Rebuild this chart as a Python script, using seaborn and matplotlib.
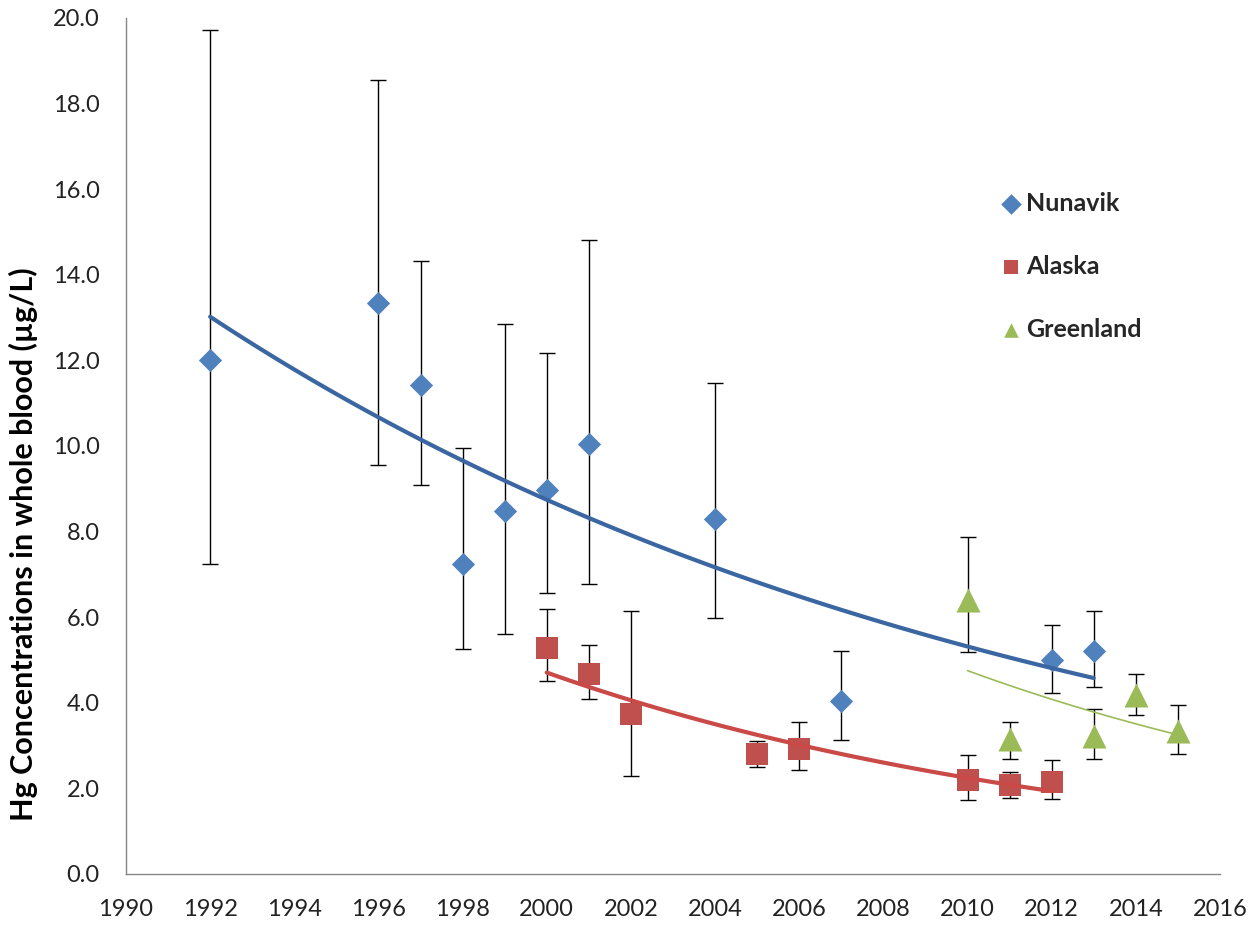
import numpy as np
import pandas as pd
import matplotlib
matplotlib.use("Agg")
import matplotlib.pyplot as plt
from matplotlib.ticker import FormatStrFormatter
import seaborn as sns

# Blood mercury means with upper / lower error limits, by survey year
nunavik_year = [1992, 1996, 1997, 1998, 1999, 2000, 2001, 2004, 2007, 2012, 2013]
nunavik_hg = [12.0, 13.35, 11.42, 7.25, 8.49, 8.97, 10.05, 8.30, 4.05, 5.00, 5.20]
nunavik_hi = [19.72, 18.55, 14.33, 9.95, 12.85, 12.18, 14.81, 11.47, 5.22, 5.81, 6.15]
nunavik_lo = [7.24, 9.56, 9.08, 5.25, 5.61, 6.56, 6.77, 5.99, 3.13, 4.24, 4.38]

alaska_year = [2000, 2001, 2002, 2005, 2006, 2010, 2011, 2012]
alaska_hg = [5.27, 4.67, 3.74, 2.80, 2.93, 2.20, 2.08, 2.15]
alaska_hi = [6.18, 5.34, 6.15, 3.11, 3.54, 2.79, 2.39, 2.66]
alaska_lo = [4.51, 4.10, 2.29, 2.50, 2.42, 1.72, 1.78, 1.75]

greenland_year = [2010, 2011, 2013, 2014, 2015]
greenland_hg = [6.40, 3.15, 3.22, 4.18, 3.33]
greenland_hi = [7.88, 3.56, 3.86, 4.67, 3.96]
greenland_lo = [5.18, 2.69, 2.69, 3.71, 2.80]

x_ticks = list(range(1990, 2017, 2))
y_ticks = [0, 2, 4, 6, 8, 10, 12, 14, 16, 18, 20]

sites = ["Nunavik", "Alaska", "Greenland"]
colors = {"Nunavik": "#4F81BD", "Alaska": "#C0504D", "Greenland": "#9BBB59"}
trend_colors = {"Nunavik": "#3A66A2", "Alaska": "#C94A47", "Greenland": "#9BBB59"}
trend_widths = {"Nunavik": 3.0, "Alaska": 3.0, "Greenland": 1.2}
markers = {"Nunavik": "D", "Alaska": "s", "Greenland": "^"}
sizes = {"Nunavik": 140, "Alaska": 250, "Greenland": 300}

series = {
    "Nunavik": (nunavik_year, nunavik_hg, nunavik_hi, nunavik_lo),
    "Alaska": (alaska_year, alaska_hg, alaska_hi, alaska_lo),
    "Greenland": (greenland_year, greenland_hg, greenland_hi, greenland_lo),
}

frames = []
for site, (yr, hg, hi, lo) in series.items():
    frames.append(pd.DataFrame({"year": yr, "hg": hg, "hi": hi, "lo": lo, "site": site}))
df = pd.concat(frames, ignore_index=True)

sns.set_theme(style="white")
plt.rcParams["font.family"] = ["Lato", "DejaVu Sans"]

fig = plt.figure(figsize=(12.53, 9.26), dpi=100)
ax = fig.add_axes([126 / 1253, 1 - 874 / 926, (1220 - 126) / 1253, (874 - 18) / 926])

# error bars underneath the markers
for site in sites:
    d = df[df.site == site]
    ax.errorbar(d.year, d.hg, yerr=[d.hg - d.lo, d.hi - d.hg], fmt="none",
                ecolor="black", elinewidth=1.0, capsize=5.5, capthick=1.0, zorder=1)

# markers
for site in sites:
    d = df[df.site == site]
    sns.scatterplot(data=d, x="year", y="hg", ax=ax, marker=markers[site],
                    color=colors[site], s=sizes[site], linewidth=0, zorder=3,
                    label=site, legend=False)

# exponential trend lines fitted to each series
for site in sites:
    d = df[df.site == site]
    b, a = np.polyfit(d.year, np.log(d.hg), 1)
    xs = np.linspace(d.year.min(), d.year.max(), 100)
    fit = pd.DataFrame({"year": xs, "hg": np.exp(a + b * xs)})
    sns.lineplot(data=fit, x="year", y="hg", ax=ax, color=trend_colors[site],
                 linewidth=trend_widths[site], zorder=4, legend=False)

ax.set_xlim(1990, 2016)
ax.set_ylim(0, 20)
ax.set_xticks(x_ticks)
ax.set_yticks(y_ticks)
ax.yaxis.set_major_formatter(FormatStrFormatter("%.1f"))
ax.set_xlabel("")
ax.set_ylabel("Hg Concentrations in whole blood (µg/L)", fontsize=22,
              fontweight="bold", color="black")
ax.yaxis.set_label_coords(-0.080, 0.385)

for side in ["top", "right"]:
    ax.spines[side].set_visible(False)
for side in ["left", "bottom"]:
    ax.spines[side].set_color("#868686")
    ax.spines[side].set_linewidth(1.0)
ax.tick_params(axis="both", which="major", direction="out", length=5, width=1.0,
               color="#868686", labelsize=17, labelcolor="#222222")
ax.tick_params(axis="y", pad=14)
ax.tick_params(axis="x", pad=13)

handles, labels = ax.get_legend_handles_labels()
leg = ax.legend(handles, labels, loc="upper left", bbox_to_anchor=(0.777, 0.823),
                frameon=False, labelspacing=1.6, handletextpad=0.1,
                handlelength=1.0, prop={"weight": "bold", "size": 18})
for h in leg.legend_handles:
    h.set_sizes([110])

fig.savefig("out.png", dpi=100, facecolor="white")
